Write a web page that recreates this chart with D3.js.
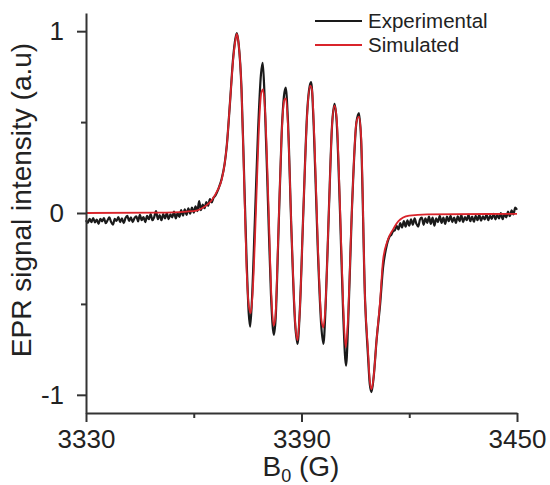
<!DOCTYPE html>
<html>
<head>
<meta charset="utf-8">
<script src="https://cdn.jsdelivr.net/npm/d3@7"></script>
<style>
  body { margin: 0; background: #fff; }
  text { font-family: "Liberation Sans", Arial, sans-serif; fill: #222; }
</style>
</head>
<body>
<div class="epr-plot"></div>
<script>
// experimental spectrum, field in G and normalised intensity
const expField = [
  3330.0,3330.5,3331.0,3331.5,3332.0,3332.5,3333.0,3333.5,3334.0,3334.5,3335.0,3335.5,3336.0,3336.5,3337.0,3337.5,
  3338.0,3338.5,3339.0,3339.5,3340.0,3340.5,3341.0,3341.5,3342.0,3342.5,3343.0,3343.5,3344.0,3344.5,3345.0,3345.5,
  3346.0,3346.5,3347.0,3347.5,3348.0,3348.5,3349.0,3349.5,3350.0,3350.5,3351.0,3351.5,3352.0,3352.5,3353.0,3353.5,
  3354.0,3354.5,3355.0,3355.5,3356.0,3356.5,3357.0,3357.5,3358.0,3358.5,3359.0,3359.5,3360.0,3360.5,3361.0,3361.5,
  3362.0,3362.5,3363.0,3363.5,3364.0,3364.5,3365.0,3365.5,3366.0,3366.5,3367.0,3367.8,
  3368.6,3369.2,3370.1,3371.0,3371.6,3372.0,3372.5,3373.3,3374.0,3374.7,3375.3,3375.7,3376.2,3377.0,3377.9,3378.7,
  3379.2,3379.7,3380.6,3381.5,3382.3,3382.8,3383.6,3384.5,3385.1,3385.6,3386.2,3387.2,3388.2,3388.9,3389.5,3390.5,
  3391.6,3392.3,3392.7,3393.4,3394.5,3395.5,3396.1,3396.7,3397.6,3398.5,3399.2,3399.8,3400.7,3401.6,3402.4,3403.0,
  3404.0,3405.3,3406.0,3406.6,3407.7,3408.5,3409.0,3409.5,3410.1,3410.9,3411.9,3412.7,3413.5,3414.5,
  3415.0,3415.5,3416.0,3416.5,3417.0,3417.5,3418.0,3418.5,3419.0,3419.5,3420.0,3420.5,3421.0,3421.5,3422.0,3422.5,
  3423.0,3423.5,3424.0,3424.5,3425.0,3425.5,3426.0,3426.5,3427.0,3427.5,3428.0,3428.5,3429.0,3429.5,3430.0,3430.5,
  3431.0,3431.5,3432.0,3432.5,3433.0,3433.5,3434.0,3434.5,3435.0,3435.5,3436.0,3436.5,3437.0,3437.5,3438.0,3438.5,
  3439.0,3439.5,3440.0,3440.5,3441.0,3441.5,3442.0,3442.5,3443.0,3443.5,3444.0,3444.5,3445.0,3445.5,3446.0,3446.5,
  3447.0,3447.5,3448.0,3448.5,3449.0,3449.5,3450.0
];
const expIntensity = [
  -0.040,-0.055,-0.032,-0.050,-0.028,-0.052,-0.036,-0.060,-0.032,-0.046,-0.028,-0.056,-0.040,-0.024,-0.050,-0.064,
  -0.032,-0.044,-0.022,-0.050,-0.030,-0.056,-0.028,-0.016,-0.044,-0.024,-0.050,-0.028,-0.018,-0.046,-0.010,-0.040,
  -0.022,-0.050,-0.016,-0.034,-0.006,-0.040,-0.022,0.010,-0.034,-0.012,-0.040,-0.006,-0.030,0.000,-0.034,-0.008,
  -0.024,0.008,-0.030,0.000,-0.022,0.016,-0.014,0.020,-0.010,0.026,-0.004,0.030,0.002,0.036,0.010,0.066,
  0.016,0.046,0.026,0.060,0.040,0.076,0.058,0.084,0.095,0.115,0.140,0.190,
  0.27,0.37,0.61,0.86,0.96,0.99,0.93,0.68,0.22,-0.25,-0.55,-0.625,-0.48,-0.05,0.45,0.76,
  0.826,0.65,0.10,-0.45,-0.67,-0.58,-0.10,0.45,0.64,0.69,0.52,-0.10,-0.60,-0.72,-0.55,0.0,
  0.56,0.70,0.72,0.48,-0.18,-0.62,-0.72,-0.52,0.0,0.48,0.60,0.50,0.02,-0.55,-0.84,-0.60,
  0.0,0.50,0.55,0.40,-0.48,-0.78,-0.94,-0.985,-0.90,-0.70,-0.50,-0.30,-0.20,-0.13,
  -0.120,-0.100,-0.095,-0.070,-0.090,-0.055,-0.080,-0.045,-0.075,-0.040,-0.070,-0.035,-0.065,-0.030,-0.060,-0.075,
  -0.035,-0.025,-0.065,-0.030,-0.055,-0.020,-0.060,-0.025,-0.070,-0.030,-0.050,-0.015,-0.055,-0.025,-0.060,-0.020,
  -0.045,-0.015,-0.050,-0.025,-0.055,-0.018,-0.045,-0.012,-0.050,-0.022,-0.040,-0.010,-0.045,-0.020,-0.048,-0.015,
  -0.040,-0.010,-0.042,-0.018,-0.035,-0.008,-0.040,-0.015,-0.032,-0.005,-0.035,-0.010,-0.030,0.000,-0.034,-0.006,
  -0.024,0.008,-0.018,0.014,-0.008,0.030,0.018
];

// simulated spectrum
const simField = [
  3330,3350,3358,3361,3363,3365,3366.5,3367.8,3368.6,3369.2,3370.1,3371.0,3371.6,3372.0,3372.5,3373.3,
  3374.0,3374.7,3375.4,3375.9,3376.5,3377.3,3378.1,3378.8,3379.3,3379.9,3380.8,3381.6,3382.2,3382.7,3383.5,3384.4,
  3385.2,3385.7,3386.3,3387.3,3388.3,3388.9,3389.5,3390.5,3391.6,3392.4,3392.9,3393.6,3394.6,3395.5,3396.1,3396.7,
  3397.6,3398.5,3399.2,3399.8,3400.7,3401.6,3402.3,3402.9,3404.0,3405.3,3406.0,3406.6,3407.7,3408.5,3409.0,3409.5,
  3410.1,3410.9,3411.9,3412.7,3414.0,3415.5,3417.0,3418.3,3420,3425,3450
];
const simIntensity = [
  0.0,0.002,0.008,0.015,0.035,0.07,0.12,0.185,0.27,0.37,0.61,0.85,0.95,0.985,0.93,0.68,
  0.20,-0.30,-0.52,-0.55,-0.40,0.0,0.45,0.66,0.68,0.55,0.05,-0.45,-0.62,-0.58,-0.15,0.40,
  0.62,0.63,0.45,-0.15,-0.62,-0.70,-0.55,0.0,0.55,0.70,0.68,0.40,-0.20,-0.58,-0.63,-0.50,
  0.0,0.48,0.59,0.52,0.05,-0.50,-0.74,-0.60,0.0,0.50,0.53,0.42,-0.48,-0.75,-0.92,-0.97,
  -0.90,-0.70,-0.48,-0.26,-0.15,-0.09,-0.045,-0.025,-0.015,-0.008,-0.005
];

const xMajor = [3330, 3390, 3450];
const xMinor = [3360, 3420];
const yMajor = [-1, 0, 1];
const yMinor = [-0.5, 0.5];
const seriesNames = ["Experimental", "Simulated"];
const seriesColors = ["#1a1a1a", "#d9242b"];

const width = 550;
const height = 485;
const svg = d3.select('.epr-plot')
    .append('svg')
    .attr('width', width)
    .attr('height', height);

const x = d3.scaleLinear().domain([3330, 3450]).range([86, 517]);
const y = d3.scaleLinear().domain([-1.1, 1.1]).range([413, 13]);

const line = d3.line()
    .x(d => x(d[0]))
    .y(d => y(d[1]))
    .curve(d3.curveMonotoneX);

const expData = expField.map((f, i) => [f, expIntensity[i]]);
const simData = simField.map((f, i) => [f, simIntensity[i]]);

svg.append("path")
    .attr("d", line(expData))
    .attr("fill", "none")
    .attr("stroke", seriesColors[0])
    .attr("stroke-width", 2.2)
    .attr("stroke-linejoin", "round");

svg.append("path")
    .attr("d", line(simData))
    .attr("fill", "none")
    .attr("stroke", seriesColors[1])
    .attr("stroke-width", 1.8)
    .attr("stroke-linejoin", "round");

// axes
const axisColor = "#333";
function styleAxis(g) {
    g.selectAll("path, line").attr("stroke", axisColor).attr("stroke-width", 2);
    g.selectAll("text").attr("fill", "#222").attr("font-size", 26)
        .attr("font-family", '"Liberation Sans", Arial, sans-serif');
}

svg.append("g")
    .attr("transform", "translate(0,413)")
    .call(d3.axisBottom(x).tickValues(xMajor).tickSize(9).tickPadding(8).tickSizeOuter(0).tickFormat(d3.format("d")))
    .call(styleAxis);
svg.append("g")
    .attr("transform", "translate(0,413)")
    .call(d3.axisBottom(x).tickValues(xMinor).tickSize(5).tickFormat("").tickSizeOuter(0))
    .call(styleAxis)
    .select(".domain").remove();

svg.append("g")
    .attr("transform", "translate(86,0)")
    .call(d3.axisLeft(y).tickValues(yMajor).tickSize(9).tickPadding(13).tickSizeOuter(0).tickFormat(d3.format("d")))
    .call(styleAxis);
svg.append("g")
    .attr("transform", "translate(86,0)")
    .call(d3.axisLeft(y).tickValues(yMinor).tickSize(5).tickFormat("").tickSizeOuter(0))
    .call(styleAxis)
    .select(".domain").remove();

// plain hyphen for the minus sign, as in the original
svg.selectAll("text").each(function() {
    const t = d3.select(this);
    t.text(t.text().replace("\u2212", "-"));
});

// axis titles
svg.append("text")
    .attr("transform", "translate(31,200) rotate(-90)")
    .attr("text-anchor", "middle")
    .attr("font-size", 28)
    .text("EPR signal intensity (a.u)");

const xTitle = svg.append("text")
    .attr("x", 301)
    .attr("y", 476)
    .attr("text-anchor", "middle")
    .attr("font-size", 28);
xTitle.append("tspan").text("B");
xTitle.append("tspan").attr("font-size", 18).attr("dy", 6).text("0");
xTitle.append("tspan").attr("dy", -6).text(" (G)");

// legend
const legend = svg.selectAll(".legend")
    .data(seriesNames)
    .enter()
    .append("g")
    .attr("transform", (d, i) => "translate(315," + (21 + i * 24) + ")");
legend.append("line")
    .attr("x1", 0).attr("x2", 47)
    .attr("stroke", (d, i) => seriesColors[i])
    .attr("stroke-width", 2);
legend.append("text")
    .attr("x", 53)
    .attr("dy", 7)
    .attr("font-size", 20.5)
    .text(d => d);
</script>
</body>
</html>
